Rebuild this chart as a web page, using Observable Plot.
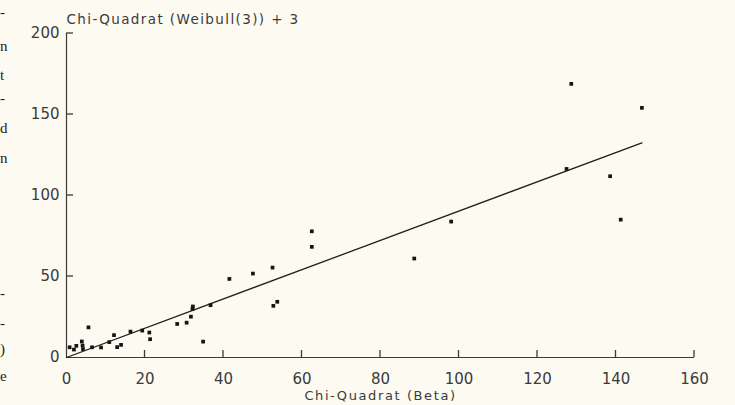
<!DOCTYPE html>
<html>
<head>
<meta charset="utf-8">
<script src="https://cdn.jsdelivr.net/npm/d3@7"></script>
<script src="https://cdn.jsdelivr.net/npm/@observablehq/plot@0.6"></script>
<style>
  html, body { margin: 0; padding: 0; background: #fcfaf1; }
  #wrap { position: relative; width: 735px; height: 405px; overflow: hidden; -webkit-font-smoothing: antialiased; }
  .frag { position: absolute; left: 0px; font-family: "Liberation Serif", serif; font-size: 15px; color: #222; line-height: 1; }
</style>
</head>
<body>
<div id="wrap"></div>
<script>
// Scatter data: Chi-Quadrat (Beta) vs Chi-Quadrat (Weibull(3)) + 3
const betaX = [0.8, 1.9, 2.5, 3.9, 4.1, 4.2, 5.6, 6.5, 8.8, 10.9, 12.1, 12.9, 13.9, 16.3, 19.3, 21.1, 21.3,
  28.2, 30.6, 31.7, 32.1, 32.2, 34.8, 36.7, 41.5, 47.5, 52.5, 52.7, 53.7, 62.5, 62.5, 88.6, 98.0,
  127.4, 128.6, 138.5, 141.2, 146.6];
const weibullY = [6.3, 4.9, 7.2, 9.9, 7.4, 5.2, 18.6, 6.3, 6.2, 9.5, 13.8, 6.4, 7.8, 16.0, 16.6, 15.4, 11.3,
  20.7, 21.5, 25.2, 30.0, 31.5, 9.8, 32.3, 48.5, 51.8, 55.5, 31.9, 34.4, 77.9, 68.3, 61.1, 83.9,
  116.4, 168.9, 111.9, 85.1, 154.1];
// Fitted line (through origin)
const fitX = [0, 146.6];
const fitY = [0, 132.5];
// Ticks
const xTicks = [0, 20, 40, 60, 80, 100, 120, 140, 160];
const yTicks = [0, 50, 100, 150, 200];
// Texts
const titleText = "Chi-Quadrat (Weibull(3)) + 3";
const xLabelText = "Chi-Quadrat (Beta)";
// Cut-off letters from the neighbouring page column
const fragments = ["-", "n", "t", "-", "d", "n", "-", "-", ")", "e"];
const fragTops = [5, 39, 68, 91, 121, 151, 286, 316, 342, 369];

const points = betaX.map((x, i) => ({x, y: weibullY[i]}));
const fit = fitX.map((x, i) => ({x, y: fitY[i]}));

const ink = "#3b3b3b";
const font = "'DejaVu Sans', sans-serif";

const chart = Plot.plot({
  width: 735,
  height: 405,
  marginLeft: 66,
  marginRight: 41,
  marginTop: 33,
  marginBottom: 48,
  style: { background: "transparent", fontFamily: font, color: ink },
  x: { domain: [0, 160], ticks: xTicks, tickSize: 0, tickPadding: 16, label: null },
  y: { domain: [0, 200], ticks: yTicks, tickSize: 0, tickPadding: 7, label: null },
  marks: [
    Plot.ruleX([0], { stroke: ink, strokeWidth: 1.2 }),
    Plot.ruleY([0], { stroke: ink, strokeWidth: 1.2 }),
    Plot.line(fit, { x: "x", y: "y", stroke: "#1e1e1e", strokeWidth: 1.3 }),
    Plot.dot(points, { x: "x", y: "y", symbol: "square", r: 2.1, fill: "#151515", stroke: "none" }),
    Plot.text([titleText], { frameAnchor: "top-left", text: d => d, dy: -19, textAnchor: "start", fontSize: 13.5, fill: ink }),
    Plot.text([xLabelText], { frameAnchor: "bottom", text: d => d, dy: 42, fontSize: 13, fill: ink })
  ]
});

const wrap = document.getElementById("wrap");
wrap.appendChild(chart);
chart.style.position = "absolute";
chart.style.left = "0";
chart.style.top = "0";
chart.querySelectorAll("text").forEach(t => {
  if (t.textContent === titleText) t.setAttribute("letter-spacing", "1.4");
  if (t.textContent === xLabelText) t.setAttribute("letter-spacing", "1.6");
});
// tick-label font size
chart.querySelectorAll("g[aria-label$='tick label'] text, g[aria-label$='tick label']").forEach(n => n.setAttribute("font-size", "15"));

// inward tick marks, positioned through the chart's own scales
const sx = chart.scale("x"), sy = chart.scale("y");
const svg = d3.select(chart);
const tickLen = 7;
const x0 = sx.apply(0), y0 = sy.apply(0);
const tg = svg.append("g").attr("stroke", ink).attr("stroke-width", 1.3);
xTicks.filter(d => d > 0).forEach(v => {
  const px = sx.apply(v);
  tg.append("line").attr("x1", px).attr("x2", px).attr("y1", y0).attr("y2", y0 - tickLen);
});
yTicks.filter(d => d > 0).forEach(v => {
  const py = sy.apply(v);
  tg.append("line").attr("x1", x0).attr("x2", x0 + tickLen).attr("y1", py).attr("y2", py);
});

fragments.forEach((f, i) => {
  const d = document.createElement("div");
  d.className = "frag";
  d.style.top = fragTops[i] + "px";
  d.textContent = f;
  wrap.appendChild(d);
});
</script>
</body>
</html>
